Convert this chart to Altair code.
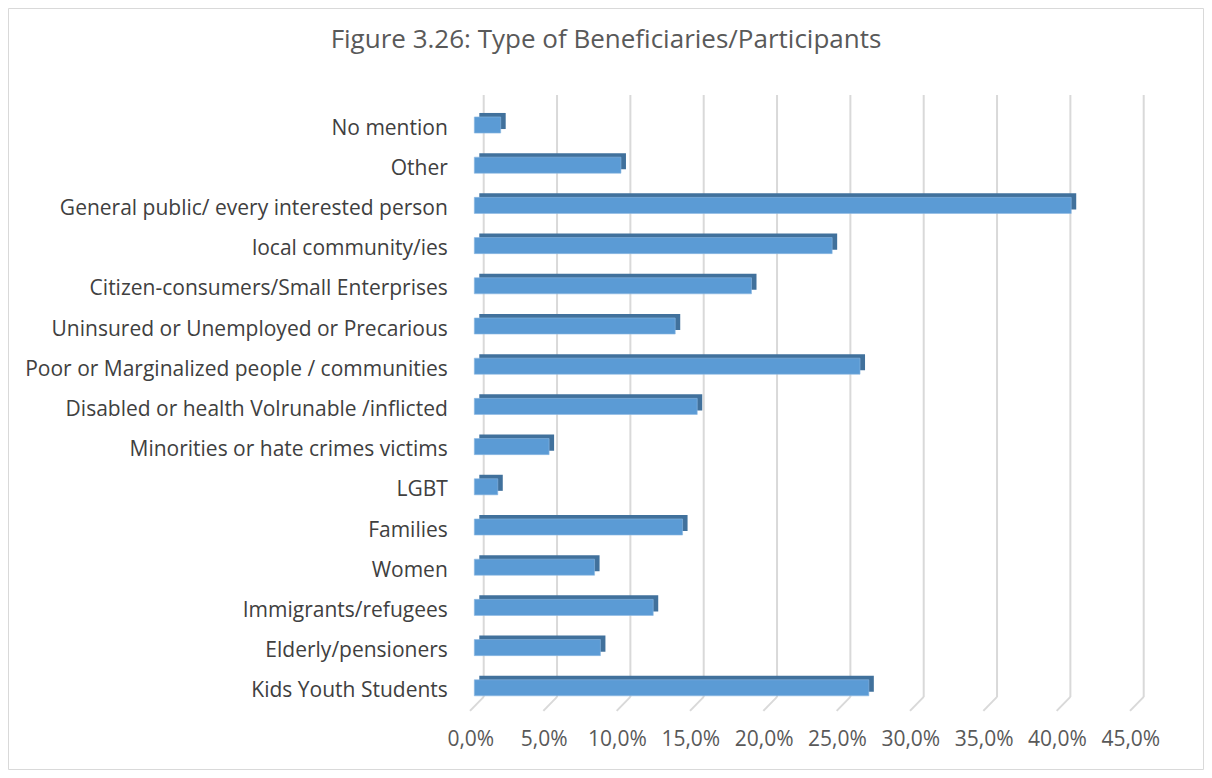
import altair as alt
import pandas as pd

categories = [
    "No mention",
    "Other",
    "General public/ every interested person",
    "local community/ies",
    "Citizen-consumers/Small Enterprises",
    "Uninsured or Unemployed or Precarious",
    "Poor or Marginalized people / communities",
    "Disabled or health Volrunable /inflicted",
    "Minorities or hate crimes victims",
    "LGBT",
    "Families",
    "Women\u00a0",
    "Immigrants/refugees",
    "Elderly/pensioners\u00a0",
    "Kids Youth Students",
]
values = [1.8, 10.0, 40.7, 24.4, 18.9, 13.7, 26.3, 15.2, 5.1, 1.6, 14.2, 8.2, 12.2, 8.6, 26.9]
ticks = [0, 0.05, 0.10, 0.15, 0.20, 0.25, 0.30, 0.35, 0.40, 0.45]

df = pd.DataFrame({"cat": categories, "val": [v / 100 for v in values]})
tdf = pd.DataFrame({"t": ticks})

W, H = 660, 603
PL, PT = 466.3, 96.9
TOTW, TOTH = 1196, 762

FONT = "Open Sans"
xscale = alt.Scale(domain=[0, 0.45], nice=False, zero=True)

xaxis = alt.Axis(
    values=ticks,
    labelExpr="replace(format(datum.value, '.1%'), '.', ',')",
    domain=False, ticks=False, grid=False, title=None,
    labelFont=FONT, labelFontSize=21, labelColor="#595959",
    labelPadding=21, labelOffset=-4, labelFlush=False,
)

grid = alt.Chart(tdf).mark_rule(color="#D9D9D9", strokeWidth=2, xOffset=9.4).encode(
    x=alt.X("t:Q", scale=xscale, axis=xaxis),
    y=alt.value(-10),
    y2=alt.value(592),
)

slants = alt.Chart(tdf).mark_rule(color="#D9D9D9", strokeWidth=2, xOffset=9.4, x2Offset=-4.3).encode(
    x=alt.X("t:Q", scale=xscale),
    x2=alt.X2("t"),
    y=alt.value(592),
    y2=alt.value(606),
)

yenc = alt.Y(
    "cat:N", sort=categories,
    scale=alt.Scale(paddingInner=0.6, paddingOuter=0.3),
    axis=alt.Axis(
        domain=False, ticks=False, grid=False, title=None,
        labelFont=FONT, labelFontSize=21, labelColor="#404040",
        labelPadding=27, labelOffset=3.5, labelLimit=600,
    ),
)

dark = alt.Chart(df).mark_bar(color="#41719C", xOffset=5, yOffset=-4).encode(
    x=alt.X("val:Q", scale=xscale),
    y=yenc,
)

front = alt.Chart(df).mark_bar(color="#5B9BD5", stroke="#8DB8E3", strokeWidth=0.6).encode(
    x=alt.X("val:Q", scale=xscale),
    y=yenc,
)

title = alt.Chart(pd.DataFrame({"t": ["Figure 3.26: Type of Beneficiaries/Participants"]})).mark_text(
    font=FONT, fontSize=26, color="#595959", align="center", baseline="middle"
).encode(
    text="t:N",
    x=alt.value(606 - 8 - PL),
    y=alt.value(40 - 8 - PT),
)

border = alt.Chart(pd.DataFrame({"a": [0]})).mark_rect(
    fillOpacity=0, stroke="#D9D9D9", strokeWidth=1
).encode(
    x=alt.value(-PL + 0.5),
    x2=alt.value(TOTW - PL - 0.5),
    y=alt.value(-PT + 0.5),
    y2=alt.value(TOTH - PT - 0.5),
)

chart = alt.layer(border, grid, slants, dark, front, title).properties(
    width=W, height=H,
    autosize=alt.AutoSizeParams(type="none"),
    padding={"left": PL, "top": PT, "right": TOTW - PL - W, "bottom": TOTH - PT - H},
    background="white",
).configure_view(stroke=None)

chart.save("out.html", embed_options={"renderer": "svg", "actions": False})
